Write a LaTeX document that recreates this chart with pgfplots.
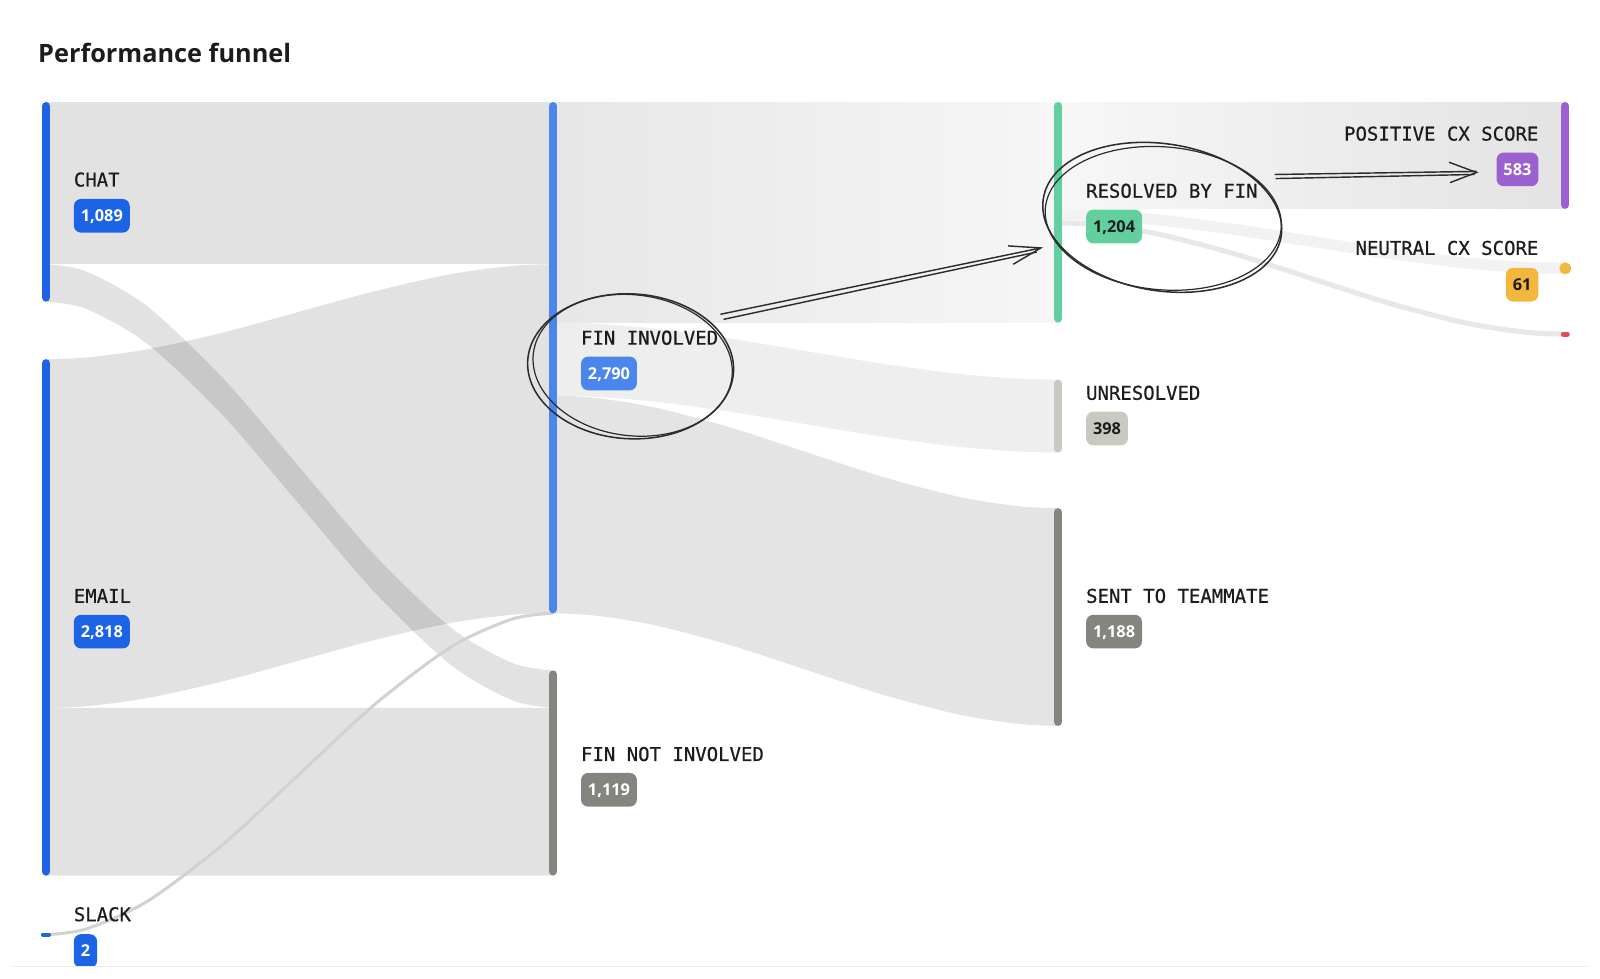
\documentclass[border=0pt]{standalone}
\usepackage{pgfplots}
\pgfplotsset{compat=1.18}
\usepgfplotslibrary{fillbetween}
\usepackage{fontspec}
\setmainfont{Open Sans}
\newfontfamily\monofont[FakeBold=0.6]{DejaVu Sans Mono}
\definecolor{blueA}{HTML}{1D63E6}
\definecolor{blueB}{HTML}{4A86EC}
\definecolor{grayD}{HTML}{85857F}
\definecolor{grayL}{HTML}{C9C9C1}
\definecolor{greenA}{HTML}{62CF9F}
\definecolor{purpleA}{HTML}{9B61D1}
\definecolor{orangeA}{HTML}{F4B73E}
\definecolor{redA}{HTML}{E05050}
\definecolor{ink}{HTML}{1C1C1C}
\definecolor{pen}{HTML}{2A2D30}
\definecolor{slackline}{HTML}{D2D2D2}
\tikzset{
  lab/.style={inner sep=0pt,text=ink,font=\monofont\fontsize{9.3}{11}\selectfont},
  badge/.style={rounded corners=3.5pt,inner xsep=3.4pt,inner ysep=0pt,minimum height=16.5pt,text height=5.75pt,text depth=0pt,font=\bfseries\fontsize{8}{9.6}\selectfont},
}
\begin{document}
\begin{tikzpicture}
\begin{axis}[width=784pt,height=479.5pt,scale only axis,xmin=0,xmax=1568,ymin=0,ymax=959,y dir=reverse,hide axis,clip=false,
  fill between/on layer=main]
\path (axis cs:0,0) rectangle (axis cs:1568,959);
% ---------- flows column 1 -> 2
\addplot[draw=none,name path=at] coordinates {(45,100)(542,100)};
\addplot[draw=none,name path=ab] coordinates {(45,258.9)(542,258.9)};
\addplot[fill=black,fill opacity=0.115,draw=none] fill between[of=at and ab];
\addplot[draw=none,smooth,name path=bt] coordinates {(45,258.9)(84.76,266.14)(144.4,300.3)(218.95,371.06)(293.5,457.95)(368.05,544.84)(442.6,615.6)(502.24,649.76)(542,657)};
\addplot[draw=none,smooth,name path=bb] coordinates {(45,295.6)(84.76,302.84)(144.4,336.99)(218.95,407.74)(293.5,494.6)(368.05,581.46)(442.6,652.21)(502.24,686.36)(542,693.6)};
\addplot[fill=black,fill opacity=0.115,draw=none] fill between[of=bt and bb];
\addplot[draw=none,smooth,name path=ct] coordinates {(45,352)(84.76,350.31)(144.4,342.32)(218.95,325.77)(293.5,305.45)(368.05,285.13)(442.6,268.58)(502.24,260.59)(542,258.9)};
\addplot[draw=none,smooth,name path=cb] coordinates {(45,693.8)(84.76,692.11)(144.4,684.12)(218.95,667.57)(293.5,647.25)(368.05,626.93)(442.6,610.38)(502.24,602.39)(542,600.7)};
\addplot[fill=black,fill opacity=0.115,draw=none] fill between[of=ct and cb];
\addplot[draw=none,name path=dt] coordinates {(45,693.8)(542,693.6)};
\addplot[draw=none,name path=db] coordinates {(45,858.1)(542,858)};
\addplot[fill=black,fill opacity=0.115,draw=none] fill between[of=dt and db];
\addplot[smooth,draw=slackline,line width=1.5pt] coordinates {(45,916)(84.76,910.27)(144.4,883.23)(218.95,827.22)(293.5,758.45)(368.05,689.68)(442.6,633.67)(502.24,606.63)(542,600.9)};
% ---------- flows column 2 -> 3
\addplot[draw=none,name path=ft] coordinates {(542,100)(1037,100)};
\addplot[draw=none,name path=fb] coordinates {(542,316.2)(1037,316.2)};
\addplot[left color=black!9.5,right color=black!3.5,draw=none] fill between[of=ft and fb];
\addplot[draw=none,smooth,name path=gt] coordinates {(542,316.2)(581.6,317.21)(641,322.0)(715.25,331.92)(789.5,344.1)(863.75,356.28)(938,366.2)(997.4,370.99)(1037,372)};
\addplot[draw=none,smooth,name path=gb] coordinates {(542,387.7)(581.6,388.71)(641,393.5)(715.25,403.42)(789.5,415.6)(863.75,427.78)(938,437.7)(997.4,442.49)(1037,443.5)};
\addplot[fill=black!6.5,draw=none] fill between[of=gt and gb];
\addplot[draw=none,smooth,name path=ht] coordinates {(542,387.7)(581.6,389.71)(641,399.17)(715.25,418.78)(789.5,442.85)(863.75,466.92)(938,486.53)(997.4,495.99)(1037,498)};
\addplot[draw=none,smooth,name path=hb] coordinates {(542,601.1)(581.6,603.11)(641,612.57)(715.25,632.18)(789.5,656.25)(863.75,680.32)(938,699.93)(997.4,709.39)(1037,711.4)};
\addplot[fill=black!10.5,draw=none] fill between[of=ht and hb];
% ---------- flows column 3 -> 4
\addplot[draw=none,name path=it] coordinates {(1037,100)(1534,100)};
\addplot[draw=none,name path=ib] coordinates {(1037,204.7)(1534,204.7)};
\addplot[left color=black!3,right color=black!11,draw=none] fill between[of=it and ib];
\addplot[draw=none,smooth,name path=jt] coordinates {(1037,204.7)(1076.76,205.66)(1136.4,210.19)(1210.95,219.58)(1285.5,231.1)(1360.05,242.62)(1434.6,252.01)(1494.24,256.54)(1534,257.5)};
\addplot[draw=none,smooth,name path=jb] coordinates {(1037,215.7)(1076.76,216.66)(1136.4,221.19)(1210.95,230.58)(1285.5,242.1)(1360.05,253.62)(1434.6,263.01)(1494.24,267.54)(1534,268.5)};
\addplot[fill=black!5,draw=none] fill between[of=jt and jb];
\addplot[smooth,draw=black!9,line width=2.5pt] coordinates {(1037,218.4)(1076.76,220.38)(1136.4,229.75)(1210.95,249.14)(1285.5,272.95)(1360.05,296.76)(1434.6,316.15)(1494.24,325.52)(1534,327.5)};
% ---------- node bars
\addplot[blueA,line width=4pt,line cap=round] coordinates {(45,104)(45,291.6)};
\addplot[blueA,line width=4pt,line cap=round] coordinates {(45,356)(45,854.1)};
\addplot[blueA,line width=2pt,line cap=round] coordinates {(42,916)(48,916)};
\addplot[blueB,line width=4pt,line cap=round] coordinates {(542,104)(542,597.1)};
\addplot[grayD,line width=4pt,line cap=round] coordinates {(542,661)(542,854)};
\addplot[greenA,line width=4pt,line cap=round] coordinates {(1037,104)(1037,312.2)};
\addplot[grayL,line width=4pt,line cap=round] coordinates {(1037,376)(1037,439.5)};
\addplot[grayD,line width=4pt,line cap=round] coordinates {(1037,502)(1037,707.4)};
\addplot[purpleA,line width=4pt,line cap=round] coordinates {(1534,104)(1534,200.7)};
\addplot[only marks,mark=*,mark size=2.7pt,color=orangeA] coordinates {(1534,263)};
\addplot[redA,line width=2.4pt,line cap=round] coordinates {(1532,327.5)(1536,327.5)};
% ---------- labels
\node[lab,anchor=west] at (axis cs:72,176) {CHAT};
\node[badge,anchor=west,fill=blueA,text=white] at (axis cs:72,211.5) {1,089};
\node[lab,anchor=west] at (axis cs:72,584) {EMAIL};
\node[badge,anchor=west,fill=blueA,text=white] at (axis cs:72,619) {2,818};
\node[lab,anchor=west] at (axis cs:72,896) {SLACK};
\node[badge,anchor=west,fill=blueA,text=white] at (axis cs:72,932) {2};
\node[lab,anchor=west] at (axis cs:569,331) {FIN INVOLVED};
\node[badge,anchor=west,fill=blueB,text=white] at (axis cs:569,366) {2,790};
\node[lab,anchor=west] at (axis cs:569,739) {FIN NOT INVOLVED};
\node[badge,anchor=west,fill=grayD,text=white] at (axis cs:569,774) {1,119};
\node[lab,anchor=west] at (axis cs:1064,187) {RESOLVED BY FIN};
\node[badge,anchor=west,fill=greenA,text=ink] at (axis cs:1064,222) {1,204};
\node[lab,anchor=west] at (axis cs:1064,385) {UNRESOLVED};
\node[badge,anchor=west,fill=grayL,text=ink] at (axis cs:1064,420) {398};
\node[lab,anchor=west] at (axis cs:1064,584) {SENT TO TEAMMATE};
\node[badge,anchor=west,fill=grayD,text=white] at (axis cs:1064,619) {1,188};
\node[lab,anchor=east] at (axis cs:1508,131) {POSITIVE CX SCORE};
\node[badge,anchor=east,fill=purpleA,text=white] at (axis cs:1508,166) {583};
\node[lab,anchor=east] at (axis cs:1508,243) {NEUTRAL CX SCORE};
\node[badge,anchor=east,fill=orangeA,text=ink] at (axis cs:1508,279) {61};
% card edge
\fill[white] (axis cs:0,947) rectangle (axis cs:1568,959);
\draw[black!7,line width=0.5pt] (axis cs:12,947) -- (axis cs:1556,947);
% ---------- hand-drawn annotations
\draw[pen,line width=0.75pt,rotate around={-3:(axis cs:618,359)}] (axis cs:618,359) ellipse [x radius=50.5pt,y radius=35.5pt];
\draw[pen,line width=0.6pt,rotate around={-7:(axis cs:620,358)}] (axis cs:620,358) ellipse [x radius=49pt,y radius=34.5pt];
\draw[pen,line width=0.75pt,rotate around={-9:(axis cs:1139,213)}] (axis cs:1139,213) ellipse [x radius=59pt,y radius=36pt];
\draw[pen,line width=0.6pt,rotate around={-5:(axis cs:1140,214)}] (axis cs:1140,214) ellipse [x radius=58pt,y radius=35pt];
\draw[pen,line width=0.7pt] (axis cs:706,308) -- (axis cs:1020,243);
\draw[pen,line width=0.7pt] (axis cs:709,313) -- (axis cs:1016,247);
\draw[pen,line width=0.7pt] (axis cs:988,241) -- (axis cs:1020,243) -- (axis cs:993,259);
\draw[pen,line width=0.7pt] (axis cs:1249,171) -- (axis cs:1447,168);
\draw[pen,line width=0.7pt] (axis cs:1250,175) -- (axis cs:1445,171);
\draw[pen,line width=0.7pt] (axis cs:1420,159) -- (axis cs:1447,169) -- (axis cs:1421,179);
% ---------- title
\node[anchor=west,inner sep=0pt,text=ink,font=\bfseries\fontsize{12.4}{14}\selectfont] at (axis cs:37,52) {Performance funnel};
\end{axis}
\end{tikzpicture}
\end{document}
